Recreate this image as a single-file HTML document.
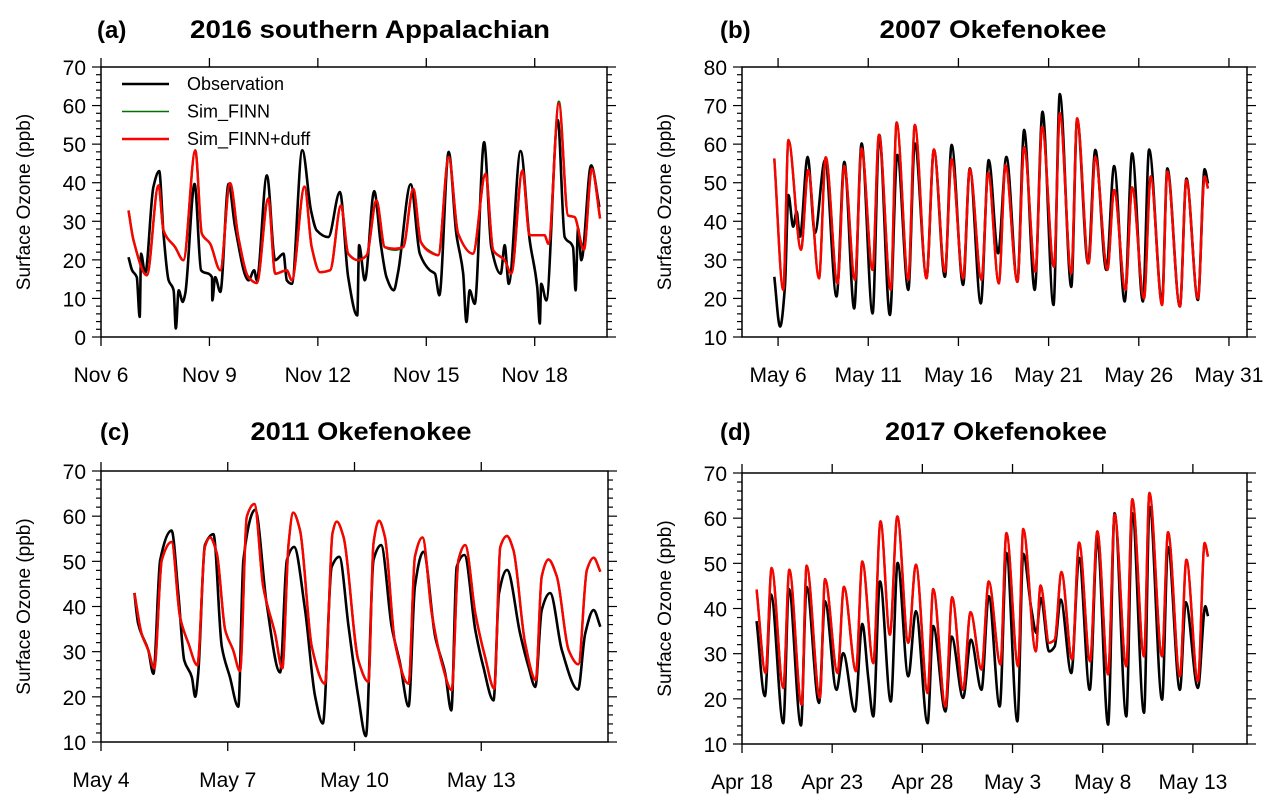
<!DOCTYPE html>
<html><head><meta charset="utf-8">
<style>
body{margin:0;background:#fff;}
svg{display:block;font-family:"Liberation Sans",Arial,sans-serif;}
</style></head>
<body>
<svg id="chart" width="1276" height="806" viewBox="0 0 1276 806" xmlns="http://www.w3.org/2000/svg"></svg>
<script>
// ---- Panel (a) data: Nov 2016 southern Appalachian (day of month) ----
const tObsA = [6.76,6.86,6.99,7.07,7.11,7.22,7.45,7.61,7.73,7.87,8.01,8.07,8.15,8.26,8.33,8.59,8.77,9.07,9.08,9.16,9.30,9.53,9.71,10.08,10.24,10.31,10.59,10.82,11.05,11.14,11.28,11.57,11.81,11.97,12.29,12.61,12.84,13.09,13.14,13.30,13.56,13.74,13.90,14.10,14.22,14.57,14.82,15.10,15.24,15.36,15.62,15.83,16.02,16.11,16.20,16.34,16.60,16.80,17.06,17.17,17.28,17.61,17.86,18.07,18.14,18.18,18.32,18.64,18.83,19.06,19.13,19.20,19.29,19.56,19.79];
const obsA = [20.7,17.3,15.5,5.2,21.6,16.4,38.9,43,26.8,14.7,12.1,2.2,12.1,9.1,11.2,39.7,17.3,15.5,9.5,15.5,11.7,39.7,28.5,14.7,17.3,14.7,41.9,19.9,21.6,14.7,13.8,48.4,32.8,27.6,25.9,37.6,15.5,5.6,23.8,14.7,37.8,24.2,15.5,12.1,16.8,39.6,21.6,17.3,16.4,10.8,48,26.8,16.4,3.9,12.1,8.6,50.5,23.3,16.4,23.8,13.8,48.2,25.1,13.0,3.5,13.8,9.5,56.2,25.9,23.3,12.1,28.1,19.9,44.5,33.7];
const tSimA = [6.76,6.90,7.27,7.59,7.73,8.05,8.28,8.61,8.79,9.02,9.30,9.57,9.80,10.08,10.31,10.63,10.82,11.14,11.28,11.63,11.83,12.06,12.34,12.64,12.84,13.12,13.35,13.62,13.85,14.13,14.36,14.64,14.85,15.10,15.33,15.62,15.88,16.29,16.64,16.85,17.17,17.35,17.66,17.86,18.27,18.38,18.67,18.92,19.10,19.36,19.58,19.81];
const finnA = [32.8,25.1,16,39.3,27.6,23.3,19.9,48.4,26.8,24.2,17.3,39.9,25.9,15.5,14,35.9,16.4,17.3,14.7,39,23.3,16.8,17.3,34.1,21.6,19.9,21.2,35.4,23.3,22.6,23.3,38.4,24.6,22.2,21.2,46.7,26.8,21.6,42.3,22.5,19.9,16.4,43.2,26.4,26.4,24.2,61.0,31.5,31.1,22.6,43.6,30.7];
const duffA = [32.8,25.1,16,39.3,27.6,23.3,19.9,48.4,26.8,24.2,17.3,39.9,25.9,15.5,14,35.9,16.4,17.3,14.7,39,23.3,16.8,17.3,34.1,21.6,19.9,21.2,35.4,23.3,22.9,23.3,38.4,24.6,22,21.2,46.7,26.8,21.6,42.3,22.5,19.9,16.4,43.2,26.4,26.4,24.2,60.5,31.5,31.1,22.6,43.6,30.7];
const xTickValsA = [6,9,12,15,18];
const xTickLabelsA = ["Nov 6","Nov 9","Nov 12","Nov 15","Nov 18"];

// ---- Panel (b) data: May 2007 Okefenokee ----
const tObsB = [5.79,6.11,6.38,6.57,6.84,7.03,7.21,7.64,8.04,8.60,9.24,9.67,10.22,10.63,11.24,11.61,12.20,12.61,13.22,13.58,14.23,14.64,15.25,15.62,16.26,16.63,17.24,17.68,18.20,18.66,19.27,19.64,20.23,20.66,21.27,21.62,22.26,22.58,23.19,23.59,24.20,24.63,25.22,25.63,26.23,26.57,27.29,27.58,28.28,28.64,29.28,29.65,29.84];
const obsB = [25.6,12.7,23,46.8,38.6,42.5,36,56.7,36.9,55.9,20.5,55.4,17.4,60.2,16.1,62.4,15.7,57.2,22.2,60.2,25.6,58.5,25.6,59.8,23.5,53.7,18.7,55.9,31.7,56.7,24.3,63.7,22.2,68.4,18.3,73,23,66.4,29.1,58.5,27.4,54.3,19.2,57.6,19.2,58.6,19.6,53.7,17.9,51.1,19.6,53.5,49.8];
const tSimB = [5.79,6.29,6.57,7.27,7.67,8.27,8.64,9.30,9.67,10.26,10.63,11.24,11.59,12.25,12.57,13.22,13.58,14.23,14.64,15.25,15.62,16.26,16.63,17.28,17.65,18.24,18.61,19.27,19.64,20.27,20.64,21.30,21.62,22.26,22.58,23.22,23.59,24.26,24.63,25.26,25.63,26.29,26.66,27.29,27.58,28.28,28.64,29.28,29.65,29.84];
const duffB = [56.3,22.2,61.1,32.6,53.3,25.2,56.6,23.9,54.3,24.8,58.9,27.4,62.4,22.2,65.6,24.8,65,25.2,58.6,26.9,56.1,25.2,53.5,24.8,52.6,23.9,54.6,24.3,59.2,26.9,64.5,28.2,68,26.5,66.7,29.1,56.7,27.4,48.1,22.2,48.8,20,51.6,18.3,52.9,17.9,50.7,20,51.6,48.5];
const xTickValsB = [6,11,16,21,26,31];
const xTickLabelsB = ["May 6","May 11","May 16","May 21","May 26","May 31"];

// ---- Panel (c) data: May 2011 Okefenokee ----
const tObsC = [4.79,4.88,5.12,5.24,5.40,5.67,5.83,5.97,6.15,6.23,6.30,6.46,6.66,6.86,7.05,7.25,7.37,7.65,7.92,8.24,8.40,8.57,8.83,9.07,9.25,9.46,9.64,9.86,10.09,10.27,10.45,10.63,10.88,11.08,11.28,11.43,11.63,11.91,12.15,12.29,12.42,12.60,12.86,13.05,13.29,13.42,13.61,13.92,14.12,14.28,14.43,14.63,14.91,15.29,15.46,15.66,15.82];
const obsC = [43,36.2,30.3,25.1,50.3,56.8,42.9,28.1,24.4,20,25.1,53.6,56,31.1,24.4,17.8,50.3,61.4,40.7,25.4,50.3,53.2,39.2,20,14.1,48.8,51,35.5,20,11.3,50.3,53.6,35.5,27.4,17.9,44.4,52.1,33.3,25.1,17,48.8,51.4,34.8,26.6,19.2,42.9,48.1,34,26.6,22.2,39.2,43,30.3,21.6,34,39.2,35.5];
const tSimC = [4.79,4.96,5.12,5.26,5.44,5.67,5.87,6.07,6.28,6.46,6.58,6.74,6.94,7.13,7.29,7.45,7.63,7.84,8.12,8.29,8.44,8.55,8.71,8.99,9.30,9.48,9.58,9.74,10.09,10.33,10.45,10.58,10.72,10.96,11.28,11.43,11.61,11.83,12.07,12.30,12.46,12.62,12.86,13.09,13.31,13.45,13.61,13.76,14.04,14.29,14.43,14.59,14.79,15.07,15.30,15.50,15.66,15.82];
const duffC = [43,34,30.3,26.3,50.3,54.3,37.7,31.8,27,53.2,55.3,51.8,34.8,30.3,25.7,59.9,62.7,44.4,34,26.3,53.9,60.8,56.9,31.1,22.9,56.2,58.8,55.4,28.1,23.3,54,59,55.4,31.8,22.9,51,55.3,38.5,27.4,21.5,50.3,53.6,38.5,28.8,21.8,53.2,55.6,52.5,31.8,23.7,46.6,50.4,46.6,30.3,27.2,48.1,50.8,47.7];
const xTickValsC = [4,7,10,13];
const xTickLabelsC = ["May 4","May 7","May 10","May 13"];

// ---- Panel (d) data: 2017 Okefenokee (days since Apr 18) ----
const tObsD = [0.81,1.27,1.61,2.29,2.60,3.27,3.58,4.27,4.60,5.24,5.61,6.26,6.67,7.00,7.28,7.65,8.25,8.63,9.22,9.64,10.29,10.60,11.28,11.62,12.26,12.69,13.28,13.68,14.29,14.66,15.27,15.59,16.05,16.32,16.57,17.03,17.34,17.67,18.26,18.69,19.28,19.70,20.30,20.66,21.31,21.64,22.29,22.60,23.29,23.62,24.28,24.60,25.28,25.69,25.84];
const obsD = [37.2,20.6,43.1,14.6,44.3,14.1,44.8,19.1,41.6,22,30.1,17.2,36.6,24.6,16.1,46,19.4,50.1,25,39.4,14.6,36.1,17.2,33.8,20.2,33.1,22,42.7,18.3,52.3,15,52.1,39.7,34.6,42.3,30.5,31.6,42,25.7,51.2,22,55.6,14.3,61.1,16.1,61.1,16.9,62.5,19.8,53.6,22,41.4,22.4,40.5,38.3];
const tSimD = [0.81,1.31,1.64,2.29,2.62,3.31,3.58,4.32,4.60,5.30,5.65,6.32,6.67,7.28,7.68,8.20,8.61,9.22,9.64,10.29,10.60,11.28,11.65,12.26,12.67,13.28,13.68,14.33,14.66,15.31,15.59,16.29,16.55,17.03,17.34,17.71,18.30,18.69,19.30,19.70,20.30,20.66,21.31,21.64,22.29,22.59,23.29,23.62,24.28,24.64,25.28,25.65,25.84];
const duffD = [44.2,25.7,49,22.4,48.6,18.7,49.5,20.2,46.5,25.7,44.8,26.1,50.4,27.9,59.3,34.2,60.4,32.4,49.7,21.3,44.3,18.3,42.5,22,39.2,26.5,46,27.6,56.7,27.2,57.6,30.5,45.1,32.4,33.1,48.1,28.7,54.6,28.3,57.1,25.4,60.8,27.2,64.2,29.4,65.6,29.4,56.9,25,50.8,23.9,54.5,51.5];
const xTickValsD = [0,5,10,15,20,25];
const xTickLabelsD = ["Apr 18","Apr 23","Apr 28","May 3","May 8","May 13"];

const NS = "http://www.w3.org/2000/svg";
const svg = document.getElementById("chart");
function mk(tag, attrs, parent){
  const e = document.createElementNS(NS, tag);
  for (const k in attrs) e.setAttribute(k, attrs[k]);
  (parent||svg).appendChild(e);
  return e;
}

// monotone cubic (Fritsch–Carlson) path through pixel points
function smoothPath(xs, ys){
  const n = xs.length;
  if (n < 2) return "";
  const d = [], m = new Array(n);
  for (let i = 0; i < n - 1; i++) d.push((ys[i+1] - ys[i]) / (xs[i+1] - xs[i]));
  m[0] = d[0]; m[n-1] = d[n-2];
  for (let i = 1; i < n - 1; i++) {
    if (d[i-1] * d[i] <= 0) m[i] = 0;
    else {
      const h0 = xs[i] - xs[i-1], h1 = xs[i+1] - xs[i];
      const w1 = 2*h1 + h0, w2 = h1 + 2*h0;
      m[i] = (w1 + w2) / (w1 / d[i-1] + w2 / d[i]);
    }
  }
  let s = "M" + xs[0].toFixed(1) + "," + ys[0].toFixed(1);
  for (let i = 0; i < n - 1; i++) {
    const h = (xs[i+1] - xs[i]) / 3;
    s += "C" + (xs[i] + h).toFixed(1) + "," + (ys[i] + m[i]*h).toFixed(1) + " " +
         (xs[i+1] - h).toFixed(1) + "," + (ys[i+1] - m[i+1]*h).toFixed(1) + " " +
         xs[i+1].toFixed(1) + "," + ys[i+1].toFixed(1);
  }
  return s;
}

function panel(p){
  const g = mk("g", {});
  
  
  const sx = v => p.x0 + (v - p.xmin) / (p.xmax - p.xmin) * (p.x1 - p.x0);
  const sy = v => p.y1 - (v - p.ymin) / (p.ymax - p.ymin) * (p.y1 - p.y0);

  const lab = mk("text", {x:p.labX, y:p.titleY, "font-size":24, "font-weight":"bold"}, g);
  lab.textContent = "(" + p.id + ")";
  
  
  const tt = mk("text", {x:p.titleX, y:p.titleY, "font-size":25, "font-weight":"bold", "text-anchor":"middle", textLength:p.titleW, lengthAdjust:"spacingAndGlyphs"}, g);
  tt.textContent = p.title;
  
  

  const yc = (p.y0 + p.y1) / 2;
  const yt = mk("text", {x:p.yTitleX, y:yc, "font-size":19, "text-anchor":"middle", transform:"rotate(-90 " + p.yTitleX + " " + yc + ")"}, g);
  yt.textContent = "Surface Ozone (ppb)";
  
  

  for (let v = p.ymin; v <= p.ymax + 0.001; v += 2) {
    const major = (v % 10 === 0);
    const L = major ? 9 : 5;
    const y = sy(v);
    mk("line", {x1:p.x0 - L, x2:p.x0, y1:y, y2:y, stroke:"#000", "stroke-width":1.2}, g);
    mk("line", {x1:p.x1, x2:p.x1 + L, y1:y, y2:y, stroke:"#000", "stroke-width":1.2}, g);
    if (major) {
      const t = mk("text", {x:p.x0 - 15, y:y + 8, "font-size":21, "text-anchor":"end"}, g);
      t.textContent = v;
      
      
    }
  }
  p.xt.forEach((v, i) => {
    const x = sx(v);
    mk("line", {x1:x, x2:x, y1:p.y1, y2:p.y1 + 9, stroke:"#000", "stroke-width":1.3}, g);
    mk("line", {x1:x, x2:x, y1:p.y0 - 9, y2:p.y0, stroke:"#000", "stroke-width":1.3}, g);
    const t = mk("text", {x:x, y:p.y1 + 45, "font-size":21, "text-anchor":"middle"}, g);
    t.textContent = p.xl[i];
    
    
  });

  const line = (ts, vs, color, w, name) => {
    const d = smoothPath(ts.map(sx), vs.map(sy));
    const pa = mk("path", {d:d, fill:"none", stroke:color, "stroke-width":w, "stroke-linejoin":"round"}, g);
    
    
  };
  line(p.tObs, p.obs, "#000", 2.6, "observation-line");
  line(p.tSim, p.finn, "#007000", 2.4, "sim-finn-line");
  line(p.tSim, p.duff, "#ff0000", 2.4, "sim-finn-duff-line");

  const box = mk("rect", {x:p.x0, y:p.y0, width:p.x1 - p.x0, height:p.y1 - p.y0, fill:"none", stroke:"#000", "stroke-width":1.5}, g);
  
  
}

panel({id:"a", title:"2016 southern Appalachian", titleW:360, labX:97, titleX:370, titleY:38, yTitleX:30,
  x0:101, x1:607, y0:67, y1:337, xmin:6, xmax:20, ymin:0, ymax:70,
  xt:xTickValsA, xl:xTickLabelsA, tObs:tObsA, obs:obsA, tSim:tSimA, finn:finnA, duff:duffA});
panel({id:"b", title:"2007 Okefenokee", titleW:227, labX:720, titleX:993, titleY:38, yTitleX:671,
  x0:742, x1:1247, y0:67, y1:337, xmin:4, xmax:32, ymin:10, ymax:80,
  xt:xTickValsB, xl:xTickLabelsB, tObs:tObsB, obs:obsB, tSim:tSimB, finn:duffB, duff:duffB});
panel({id:"c", title:"2011 Okefenokee", titleW:221, labX:100, titleX:361, titleY:440, yTitleX:30,
  x0:101, x1:608, y0:471, y1:742, xmin:4, xmax:16, ymin:10, ymax:70,
  xt:xTickValsC, xl:xTickLabelsC, tObs:tObsC, obs:obsC, tSim:tSimC, finn:duffC, duff:duffC});
panel({id:"d", title:"2017 Okefenokee", titleW:222, labX:720, titleX:996, titleY:440, yTitleX:671,
  x0:742, x1:1247, y0:473, y1:744, xmin:0, xmax:28, ymin:10, ymax:70,
  xt:xTickValsD, xl:xTickLabelsD, tObs:tObsD, obs:obsD, tSim:tSimD, finn:duffD, duff:duffD});

const legNames = ["Observation","Sim_FINN","Sim_FINN+duff"];
const legColors = ["#000","#007000","#ff0000"];
const legWidths = [2.6,1.6,2.4];
const lg = mk("g", {});


legNames.forEach((n, i) => {
  const y = 84 + i * 27.5;
  mk("line", {x1:122, x2:169, y1:y, y2:y, stroke:legColors[i], "stroke-width":legWidths[i]}, lg);
  const t = mk("text", {x:187, y:y + 6, "font-size":18}, lg);
  t.textContent = n;
  
  
});
</script>
</body></html>
